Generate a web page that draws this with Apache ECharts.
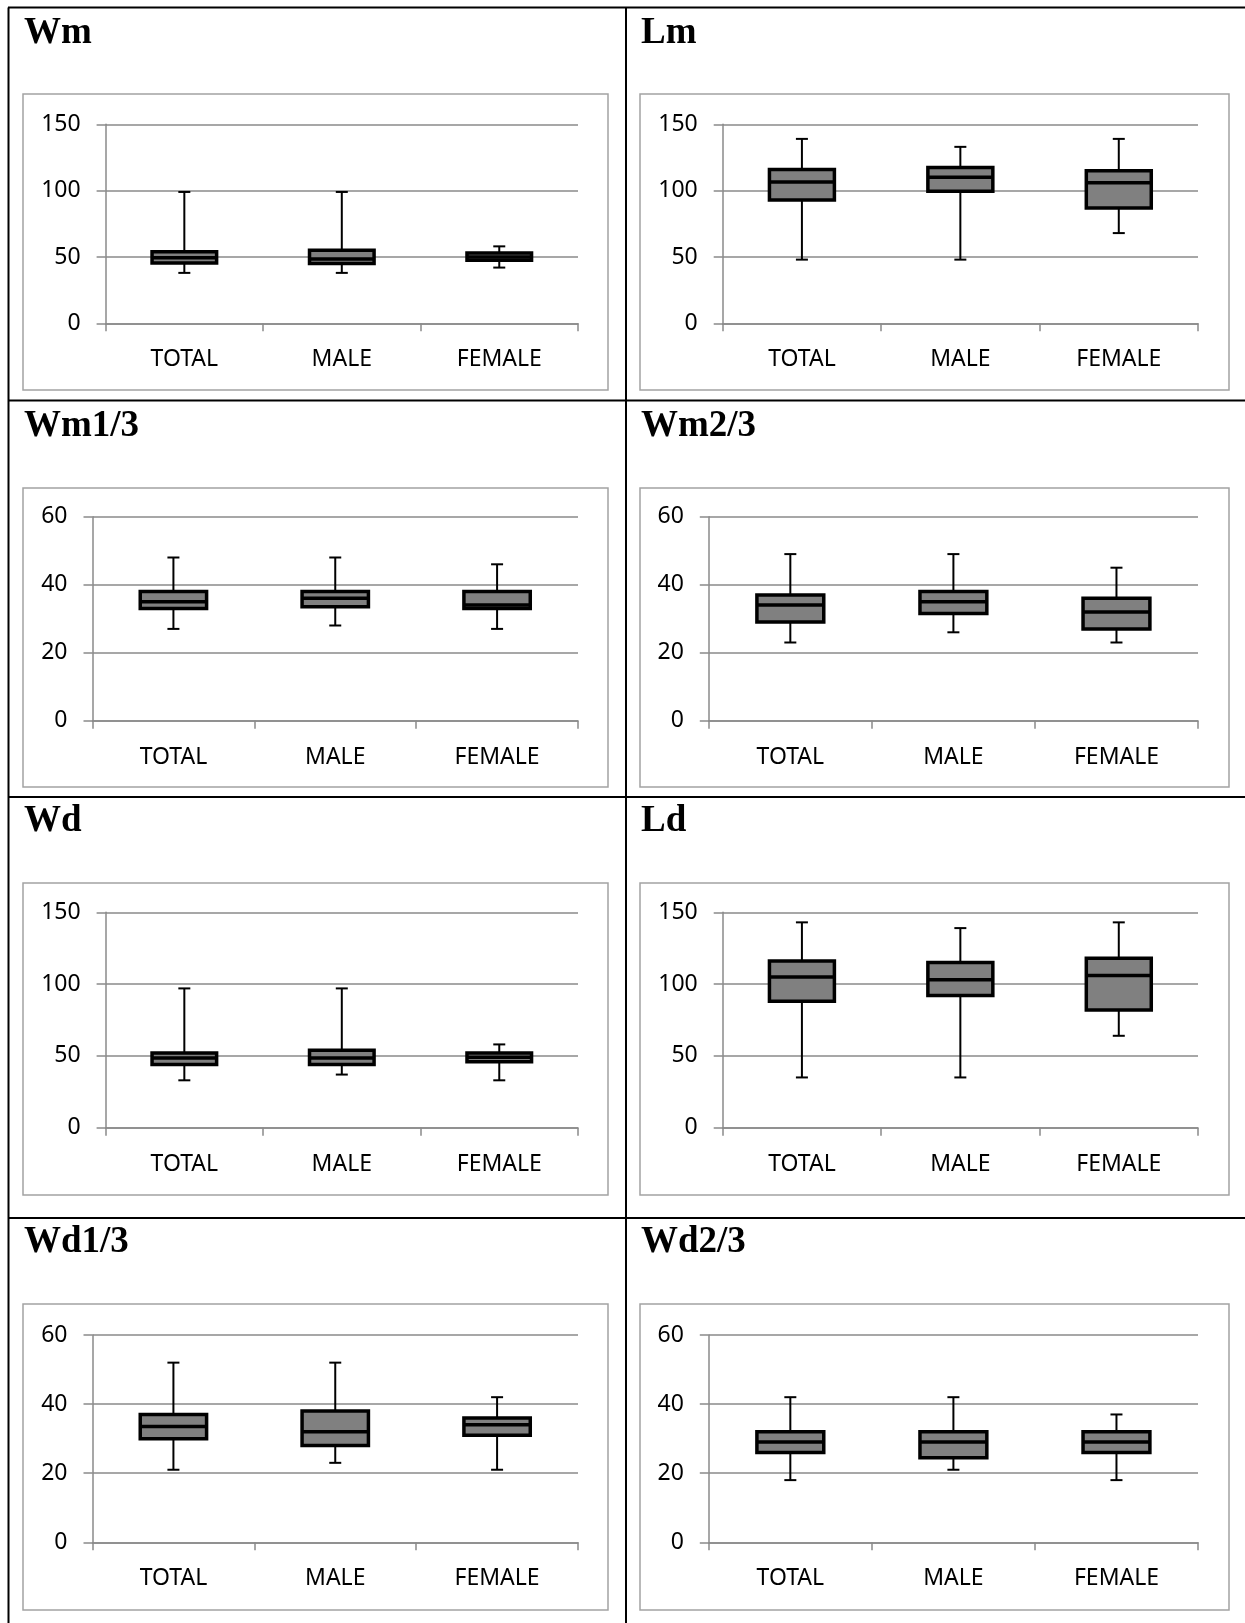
<!DOCTYPE html>
<html>
<head>
<meta charset="utf-8">
<title>Box plots by sex</title>
<script src="https://cdn.jsdelivr.net/npm/echarts@6/dist/echarts.min.js"></script>
<style>
  html, body { margin: 0; padding: 0; background: #fff; }
  #chart { width: 1245px; height: 1623px; }
</style>
</head>
<body>
<div id="chart"></div>
<script>
// Groups on the x axis
const categories = ['TOTAL', 'MALE', 'FEMALE'];

// Panel names, in reading order (left to right, top to bottom)
const panelTitles = ['Wm', 'Lm', 'Wm1/3', 'Wm2/3', 'Wd', 'Ld', 'Wd1/3', 'Wd2/3'];

// Y axis ranges and tick steps per panel
const axisMax = [150, 150, 60, 60, 150, 150, 60, 60];
const axisStep = [50, 50, 20, 20, 50, 50, 20, 20];

// Five-number summaries per group: [min, Q1, median, Q3, max]
const wmStats   = [[38, 45.5, 49.5, 54, 99], [38, 45, 48.5, 55, 99], [42, 47.5, 50, 53, 58]];
const lmStats   = [[48, 93, 106.5, 116, 139], [48, 99.5, 110, 117.5, 133], [68, 87, 106, 115, 139]];
const wm13Stats = [[27, 33, 35, 38, 48], [28, 33.5, 36, 38, 48], [27, 33, 34, 38, 46]];
const wm23Stats = [[23, 29, 34, 37, 49], [26, 31.5, 35, 38, 49], [23, 27, 32, 36, 45]];
const wdStats   = [[33, 44, 48.5, 52, 97], [37, 44, 48.5, 54, 97], [33, 46, 49, 52, 58]];
const ldStats   = [[35, 88, 105, 116, 143], [35, 92, 103, 115, 139], [64, 82, 106, 118, 143]];
const wd13Stats = [[21, 30, 33.5, 37, 52], [23, 28, 32, 38, 52], [21, 31, 34, 36, 42]];
const wd23Stats = [[18, 26, 29, 32, 42], [21, 24.5, 29, 32, 42], [18, 26, 29, 32, 37]];

const panelStats = [wmStats, lmStats, wm13Stats, wm23Stats, wdStats, ldStats, wd13Stats, wd23Stats];

// ---- layout (pixels) ----
const plotRects = [
  { left: 105.6, top: 124.3, width: 472.4, height: 199 },
  { left: 722.7, top: 124.3, width: 475.3, height: 199 },
  { left: 92.5,  top: 516.7, width: 485.5, height: 204 },
  { left: 708.8, top: 516.7, width: 489.2, height: 204 },
  { left: 105.6, top: 912.3, width: 472.4, height: 215.4 },
  { left: 722.7, top: 912.3, width: 475.3, height: 215.4 },
  { left: 92.5,  top: 1335,  width: 485.5, height: 207.3 },
  { left: 708.8, top: 1335,  width: 489.2, height: 207.3 }
];
const frameCols = [[23, 608], [640, 1229]];
const frameRows = [[94, 390], [488, 787], [883, 1195], [1304, 1610]];
const titleX = [24, 641];
const titleY = [33, 426, 821, 1242];

const GRID_COLOR = '#8a8a8a';
const LABEL_FONT = '"Noto Sans", sans-serif';

const grids = [], xAxes = [], yAxes = [], series = [], graphics = [];

// Table rules
const ruleStyle = { stroke: '#000', lineWidth: 2 };
graphics.push({ type: 'line', shape: { x1: 8, y1: 7.5, x2: 1245, y2: 7.5 }, style: ruleStyle });
graphics.push({ type: 'line', shape: { x1: 8.5, y1: 7.5, x2: 8.5, y2: 1623 }, style: ruleStyle });
graphics.push({ type: 'line', shape: { x1: 626, y1: 7.5, x2: 626, y2: 1623 }, style: ruleStyle });
[400.5, 797, 1218].forEach(function (y) {
  graphics.push({ type: 'line', shape: { x1: 8, y1: y, x2: 1245, y2: y }, style: ruleStyle });
});

panelTitles.forEach(function (title, i) {
  const col = i % 2, row = Math.floor(i / 2);
  const r = plotRects[i];

  // Chart area frame
  graphics.push({
    type: 'rect',
    shape: { x: frameCols[col][0], y: frameRows[row][0],
             width: frameCols[col][1] - frameCols[col][0],
             height: frameRows[row][1] - frameRows[row][0] },
    style: { fill: null, stroke: '#a3a3a3', lineWidth: 1.5 }
  });

  // Panel heading
  graphics.push({
    type: 'text',
    x: titleX[col], y: titleY[row],
    style: { text: title, font: 'bold 37px "Liberation Serif", serif',
             fill: '#000', verticalAlign: 'middle' }
  });

  grids.push({ left: r.left, top: r.top, width: r.width, height: r.height, containLabel: false });

  xAxes.push({
    type: 'category', gridIndex: i, data: categories, boundaryGap: true,
    axisLine: { show: true, lineStyle: { color: GRID_COLOR, width: 1.5 } },
    axisTick: { show: true, length: 8, lineStyle: { color: GRID_COLOR, width: 1.5 } },
    axisLabel: { color: '#000', fontFamily: LABEL_FONT, fontSize: 23, margin: 25 },
    splitLine: { show: false }
  });

  yAxes.push({
    type: 'value', gridIndex: i, min: 0, max: axisMax[i], interval: axisStep[i],
    axisLine: { show: true, lineStyle: { color: GRID_COLOR, width: 1.5 } },
    axisTick: { show: true, length: 9, lineStyle: { color: GRID_COLOR, width: 1.5 } },
    axisLabel: { color: '#000', fontFamily: LABEL_FONT, fontSize: 23, margin: 25,
                 padding: [3, 0, 0, 0] },
    splitLine: { show: true, lineStyle: { color: GRID_COLOR, width: 1.5 } }
  });

  series.push({
    type: 'custom',
    xAxisIndex: i, yAxisIndex: i,
    data: panelStats[i].map(function (s, k) { return [k].concat(s); }),
    encode: { x: 0, y: [1, 2, 3, 4, 5] },
    renderItem: function (params, api) {
      const c = api.value(0);
      const pMin = api.coord([c, api.value(1)]);
      const pQ1 = api.coord([c, api.value(2)]);
      const pMed = api.coord([c, api.value(3)]);
      const pQ3 = api.coord([c, api.value(4)]);
      const pMax = api.coord([c, api.value(5)]);
      const bw = api.size([1, 0])[0] * 0.41;
      const cx = pMed[0];
      const capHalf = 6;
      const thin = { stroke: '#000', lineWidth: 2 };
      return {
        type: 'group',
        children: [
          { type: 'line', shape: { x1: cx, y1: pMax[1], x2: cx, y2: pMin[1] }, style: thin },
          { type: 'line', shape: { x1: cx - capHalf, y1: pMax[1], x2: cx + capHalf, y2: pMax[1] }, style: thin },
          { type: 'line', shape: { x1: cx - capHalf, y1: pMin[1], x2: cx + capHalf, y2: pMin[1] }, style: thin },
          { type: 'rect',
            shape: { x: cx - bw / 2, y: pQ3[1], width: bw, height: pQ1[1] - pQ3[1] },
            style: { fill: '#808080', stroke: '#000', lineWidth: 3.5 } },
          { type: 'line', shape: { x1: cx - bw / 2, y1: pMed[1], x2: cx + bw / 2, y2: pMed[1] },
            style: { stroke: '#000', lineWidth: 3.5 } }
        ]
      };
    }
  });
});

const chart = echarts.init(document.getElementById('chart'), null, { renderer: 'canvas' });
chart.setOption({
  animation: false,
  backgroundColor: '#ffffff',
  grid: grids,
  xAxis: xAxes,
  yAxis: yAxes,
  series: series,
  graphic: { elements: graphics }
});
</script>
</body>
</html>
